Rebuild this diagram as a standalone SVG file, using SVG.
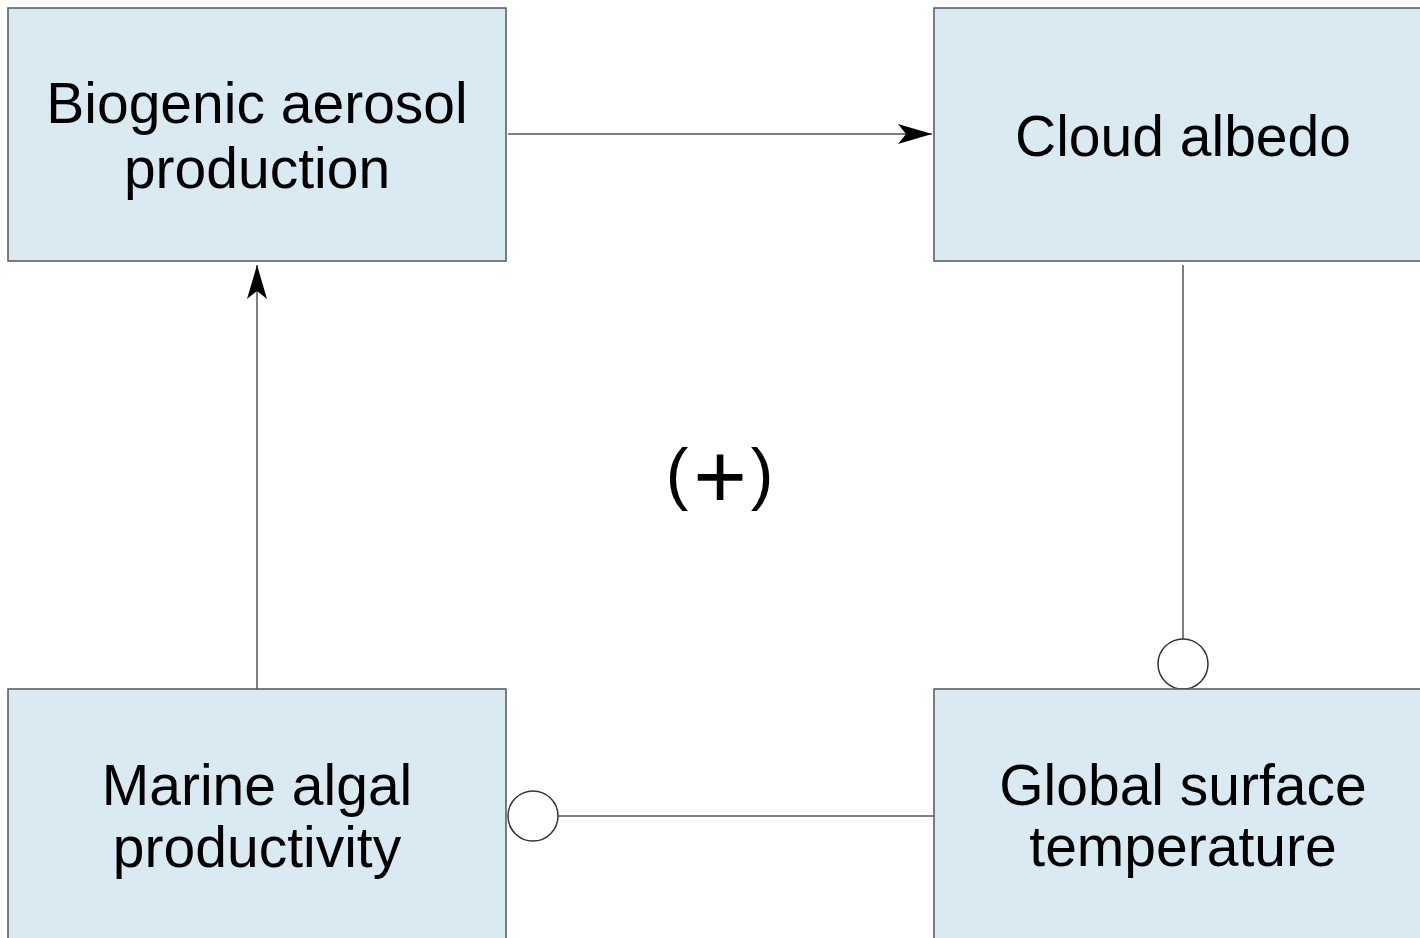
<svg xmlns="http://www.w3.org/2000/svg" width="1420" height="938" viewBox="0 0 1420 938">
<defs>
<style>
.box{fill:#d9eaf3;stroke:#555;stroke-width:1.5}
.lbl{font-family:"Liberation Sans",Arial,sans-serif;font-size:57px;fill:#000;text-anchor:middle}
.ln{stroke:#555;stroke-width:1.5;fill:none}
.neg{fill:#fff;stroke:#333;stroke-width:1.5}
</style>
<marker id="arr" markerWidth="36" markerHeight="24" refX="34" refY="12" orient="auto" markerUnits="userSpaceOnUse">
<path d="M0,2 L34,12 L0,22 L8,12 Z" fill="#000"/>
</marker>
</defs>
<rect width="1420" height="938" fill="#fff"/>
<g id="connectors">
<line class="ln" x1="508" y1="134" x2="932" y2="134" marker-end="url(#arr)"/>
<line class="ln" x1="257" y1="689" x2="257" y2="265" marker-end="url(#arr)"/>
<line class="ln" x1="1183" y1="265" x2="1183" y2="639"/>
<circle class="neg" cx="1183" cy="664" r="25"/>
<line class="ln" x1="558" y1="816" x2="934" y2="816"/>
<circle class="neg" cx="533" cy="816" r="25"/>
</g>
<g id="node-biogenic">
<rect class="box" x="8" y="8" width="498" height="253"/>
<text class="lbl" x="257" y="123">Biogenic aerosol</text>
<text class="lbl" x="257" y="188">production</text>
</g>
<g id="node-cloud">
<rect class="box" x="934" y="8" width="490" height="253"/>
<text class="lbl" x="1183" y="156">Cloud albedo</text>
</g>
<g id="node-marine">
<rect class="box" x="8" y="689" width="498" height="253"/>
<text class="lbl" x="257" y="805">Marine algal</text>
<text class="lbl" x="257" y="867">productivity</text>
</g>
<g id="node-global">
<rect class="box" x="934" y="689" width="490" height="253"/>
<text class="lbl" x="1183" y="805">Global surface</text>
<text class="lbl" x="1183" y="866">temperature</text>
</g>
<text id="loop-sign" y="497" font-family="'Liberation Sans',Arial,sans-serif" font-size="68" text-anchor="middle"><tspan x="677">(</tspan><tspan x="720" y="508" font-size="92">+</tspan><tspan x="762" y="497">)</tspan></text>
</svg>
